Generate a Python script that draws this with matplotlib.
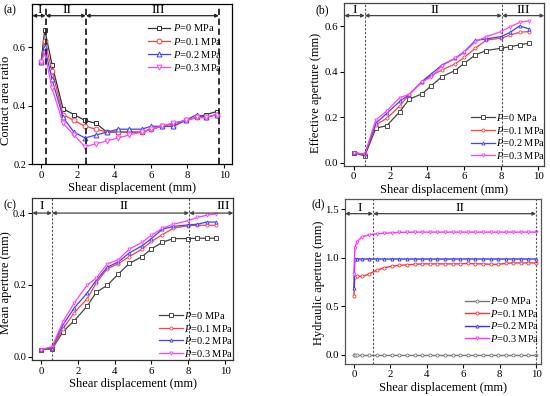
import matplotlib
matplotlib.use("Agg")
import matplotlib.pyplot as plt

plt.rcParams['font.family'] = ['Liberation Serif', 'DejaVu Serif']
plt.rcParams['mathtext.fontset'] = 'custom'
plt.rcParams['mathtext.it'] = 'Liberation Serif:italic'
plt.rcParams['mathtext.rm'] = 'Liberation Serif'
plt.rcParams['font.size'] = 8

labels = ['$P$=0 MPa', '$P$=0.1 MPa', '$P$=0.2 MPa', '$P$=0.3 MPa']
xlabel = 'Shear displacement (mm)'

# (a) contact area ratio
xa = [0, 0.2, 0.6, 1.2, 1.8, 2.4, 3.0, 3.6, 4.2, 4.8, 5.5, 6.0, 6.6, 7.2, 7.9, 8.5, 9.0, 9.6]
a0 = [0.55, 0.66, 0.54, 0.39, 0.37, 0.35, 0.34, 0.31, 0.31, 0.31, 0.31, 0.32, 0.33, 0.34, 0.35, 0.36, 0.37, 0.38]
a1 = [0.55, 0.62, 0.52, 0.37, 0.35, 0.33, 0.32, 0.31, 0.31, 0.31, 0.31, 0.32, 0.33, 0.33, 0.35, 0.36, 0.36, 0.37]
a2 = [0.55, 0.60, 0.49, 0.36, 0.31, 0.29, 0.30, 0.31, 0.32, 0.32, 0.32, 0.33, 0.33, 0.33, 0.35, 0.37, 0.36, 0.37]
a3 = [0.55, 0.58, 0.46, 0.34, 0.30, 0.26, 0.27, 0.28, 0.29, 0.30, 0.31, 0.32, 0.33, 0.34, 0.35, 0.36, 0.36, 0.37]

# (b) effective aperture
xb = [0, 0.6, 1.2, 1.8, 2.5, 3.0, 3.7, 4.2, 4.8, 5.5, 6.0, 6.6, 7.2, 8.0, 8.5, 9.0, 9.5]
b0 = [0.045, 0.031, 0.152, 0.164, 0.225, 0.279, 0.303, 0.338, 0.379, 0.405, 0.437, 0.474, 0.493, 0.503, 0.51, 0.518, 0.525]
b1 = [0.045, 0.038, 0.167, 0.196, 0.25, 0.30, 0.355, 0.383, 0.408, 0.434, 0.463, 0.503, 0.539, 0.547, 0.561, 0.573, 0.576]
b2 = [0.045, 0.038, 0.174, 0.218, 0.27, 0.30, 0.357, 0.39, 0.43, 0.459, 0.488, 0.537, 0.544, 0.554, 0.573, 0.601, 0.588]
b3 = [0.045, 0.038, 0.189, 0.228, 0.287, 0.30, 0.355, 0.376, 0.427, 0.458, 0.485, 0.532, 0.554, 0.576, 0.598, 0.616, 0.623]

# (c) mean aperture
xc = [0, 0.6, 1.2, 1.8, 2.5, 3.0, 3.6, 4.2, 4.8, 5.5, 6.0, 6.6, 7.2, 8.0, 8.5, 9.0, 9.5]
c0 = [0.02, 0.021, 0.07, 0.10, 0.14, 0.179, 0.199, 0.23, 0.26, 0.279, 0.30, 0.319, 0.329, 0.329, 0.33, 0.33, 0.33]
c1 = [0.02, 0.022, 0.078, 0.122, 0.161, 0.205, 0.245, 0.259, 0.279, 0.30, 0.321, 0.34, 0.358, 0.365, 0.366, 0.366, 0.366]
c2 = [0.02, 0.025, 0.089, 0.135, 0.177, 0.212, 0.249, 0.264, 0.289, 0.309, 0.329, 0.355, 0.363, 0.367, 0.369, 0.375, 0.375]
c3 = [0.02, 0.028, 0.098, 0.149, 0.199, 0.219, 0.258, 0.27, 0.30, 0.319, 0.338, 0.358, 0.369, 0.379, 0.388, 0.394, 0.398]

# (d) hydraulic aperture
xd = [0, 0.05, 0.15, 0.42, 0.83, 1.25, 1.67, 2.08, 2.5, 2.92, 3.33, 3.75, 4.17, 4.58, 5.0,
      5.42, 5.83, 6.25, 6.67, 7.08, 7.5, 7.92, 8.33, 8.75, 9.17, 9.58, 10.0]
d0 = [0.0] * 27
d1 = [0.60, 0.80, 0.81, 0.805, 0.83, 0.87, 0.895, 0.91, 0.92, 0.925, 0.93, 0.935, 0.935, 0.935, 0.935,
      0.935, 0.935, 0.94, 0.935, 0.935, 0.93, 0.93, 0.94, 0.945, 0.945, 0.945, 0.945]
d2 = [0.69, 0.985, 0.985, 0.985, 0.985, 0.985, 0.985, 0.985, 0.985, 0.985, 0.985, 0.985, 0.985, 0.985, 0.985,
      0.985, 0.985, 0.985, 0.985, 0.985, 0.985, 0.985, 0.985, 0.985, 0.985, 0.985, 0.985]
d3 = [0.83, 1.10, 1.16, 1.21, 1.235, 1.245, 1.25, 1.255, 1.26, 1.26, 1.262, 1.262, 1.262, 1.262, 1.262,
      1.262, 1.262, 1.262, 1.262, 1.262, 1.262, 1.262, 1.262, 1.262, 1.262, 1.262, 1.262]

fig = plt.figure(figsize=(5.5, 3.96), dpi=100)
W, H = 550, 396

def add_ax(l, t, r, b):
    return fig.add_axes([l / W, 1 - b / H, (r - l) / W, (b - t) / H])

axa = add_ax(32.3, 4, 231.7, 164.3)
axb = add_ax(344.3, 3.3, 544.3, 165.7)
axc = add_ax(32.3, 198, 233.3, 360.3)
axd = add_ax(345, 199, 541, 363.7)

cols = ['#333333', '#ff4040', '#4040ff', '#ff40ff']
markers = ['s', 'o', '^', 'v']
LBL = 9

def style(ax, spine_col='black'):
    for s in ax.spines.values():
        s.set_color(spine_col)
        s.set_linewidth(0.9)
    ax.tick_params(direction='out', length=3, width=0.8, labelsize=7.8, pad=1.5,
                   top=False, right=False)
    ax.set_xlabel(xlabel, fontsize=LBL, labelpad=2)

def arrows(ax, bounds, y, ylab, texts, xlab, color):
    for (x1, x2) in bounds:
        ax.annotate('', xy=(x2, y), xytext=(x1, y),
                    arrowprops=dict(arrowstyle='<|-|>', color=color, lw=0.9,
                                    mutation_scale=5, shrinkA=0, shrinkB=0))
    for t, xx in zip(texts, xlab):
        ax.text(xx, ylab, t, ha='center', va='center', fontsize=9.5)

# (a)
for ys, c, m, lab in zip([a0, a1, a2, a3], cols, markers, labels):
    axa.plot(xa, ys, color=c, marker=m, ms=3.5, mfc='white', mec=c, mew=0.7, lw=0.9, label=lab)
axa.set_xlim(-0.48, 10.42)
axa.set_ylim(0.2, 0.748)
axa.set_xticks([0, 2, 4, 6, 8, 10])
axa.set_yticks([0.2, 0.4, 0.6])
style(axa)
axa.tick_params(axis='y', labelsize=7.5)
axa.set_ylabel('Contact area ratio', fontsize=LBL)
axa.yaxis.set_label_coords(-0.102, 0.40)
for xv in [0.25, 2.45, 9.72]:
    axa.axvline(xv, color='#222222', lw=1.3, ls=(0, (3.5, 2)))
arrows(axa, [(-0.48, 0.25), (0.25, 2.45), (2.45, 9.72)], 0.708, 0.728,
       ['I', 'II', 'III'], [-0.1, 1.4, 6.4], '#222222')
axa.legend(loc='upper right', bbox_to_anchor=(0.955, 0.885), frameon=False, fontsize=7.5,
           handlelength=2.1, handletextpad=0.3, labelspacing=0.2, borderpad=0, borderaxespad=0)
fig.text(3 / W, 1 - 10 / H, '(a)', fontsize=8.5, va='center')

# (b)
for ys, c, m, lab in zip([b0, b1, b2, b3], cols, markers, labels):
    axb.plot(xb, ys, color=c if c != '#333333' else '#444444', marker=m, ms=2.2,
             mfc='white', mec=c, mew=0.6, lw=0.9, label=lab)
axb.set_xlim(-0.51, 10.34)
axb.set_ylim(-0.012, 0.70)
axb.set_xticks([0, 2, 4, 6, 8, 10])
axb.set_yticks([0.0, 0.2, 0.4, 0.6])
axb.set_yticklabels(['0.0', '0.2', '0.4', '0.6'])
style(axb, '#444444')
axb.set_ylabel('Effective aperture (mm)', fontsize=LBL)
axb.yaxis.set_label_coords(-0.11, 0.45)
for xv in [0.6, 8.05]:
    axb.axvline(xv, color='#555555', lw=0.8, ls=(0, (2, 1.5)))
arrows(axb, [(-0.51, 0.6), (0.6, 8.05), (8.05, 10.34)], 0.646, 0.67,
       ['I', 'II', 'III'], [0.07, 4.4, 9.2], '#444444')
axb.legend(loc='lower right', bbox_to_anchor=(1.005, 0.03), frameon=False, fontsize=7.5,
           handlelength=2.3, handletextpad=0.1, labelspacing=0.15, borderpad=0, borderaxespad=0)
fig.text(315 / W, 1 - 10 / H, '(b)', fontsize=8.5, va='center')

# (c)
for ys, c, m, lab in zip([c0, c1, c2, c3], cols, markers, labels):
    axc.plot(xc, ys, color=c if c != '#333333' else '#444444', marker=m, ms=2.2,
             mfc='white', mec=c, mew=0.6, lw=0.9, label=lab)
axc.set_xlim(-0.47, 10.45)
axc.set_ylim(-0.01, 0.442)
axc.set_xticks([0, 2, 4, 6, 8, 10])
axc.set_yticks([0.0, 0.2, 0.4])
axc.set_yticklabels(['0.0', '0.2', '0.4'])
style(axc, '#333333')
axc.tick_params(axis='y', labelsize=7.5)
axc.set_ylabel('Mean aperture (mm)', fontsize=LBL)
axc.yaxis.set_label_coords(-0.1, 0.48)
for xv in [0.6, 8.05]:
    axc.axvline(xv, color='#555555', lw=0.8, ls=(0, (2, 1.5)))
arrows(axc, [(-0.47, 0.6), (0.6, 8.05), (8.05, 10.45)], 0.40, 0.421,
       ['I', 'II', 'III'], [0.04, 4.5, 9.9], '#444444')
axc.legend(loc='lower right', bbox_to_anchor=(1.0, 0.01), frameon=False, fontsize=7.5,
           handlelength=2.3, handletextpad=0.1, labelspacing=0.15, borderpad=0, borderaxespad=0)
fig.text(3 / W, 1 - 205 / H, '(c)', fontsize=8.5, va='center')

# (d)
dcols = ['#777777', '#ff3333', '#3333ff', '#ff33ff']
dmarkers = ['o', 'o', '^', 'v']
for ys, c, m, lab in zip([d0, d1, d2, d3], dcols, dmarkers, labels):
    axd.plot(xd, ys, color=c, marker=m, ms=2.2, mfc='white', mec=c, mew=0.6, lw=1.0, label=lab)
axd.set_xlim(-0.49, 10.27)
axd.set_ylim(-0.093, 1.603)
axd.set_xticks([0, 2, 4, 6, 8, 10])
axd.set_yticks([0.0, 0.5, 1.0, 1.5])
style(axd, '#555555')
axd.set_ylabel('Hydraulic aperture (mm)', fontsize=LBL)
axd.yaxis.set_label_coords(-0.10, 0.49)
for xv in [1.05, 10.0]:
    axd.axvline(xv, color='#555555', lw=0.8, ls=(0, (2, 1.5)))
arrows(axd, [(-0.49, 1.05), (1.05, 10.0)], 1.452, 1.51,
       ['I', 'II'], [0.31, 5.8], '#444444')
axd.legend(loc='lower right', bbox_to_anchor=(0.99, 0.12), frameon=False, fontsize=7.5,
           handlelength=2.3, handletextpad=0.1, labelspacing=0.15, borderpad=0, borderaxespad=0)
fig.text(312 / W, 1 - 204 / H, '(d)', fontsize=8.5, va='center')

fig.savefig('out.png', dpi=100)
